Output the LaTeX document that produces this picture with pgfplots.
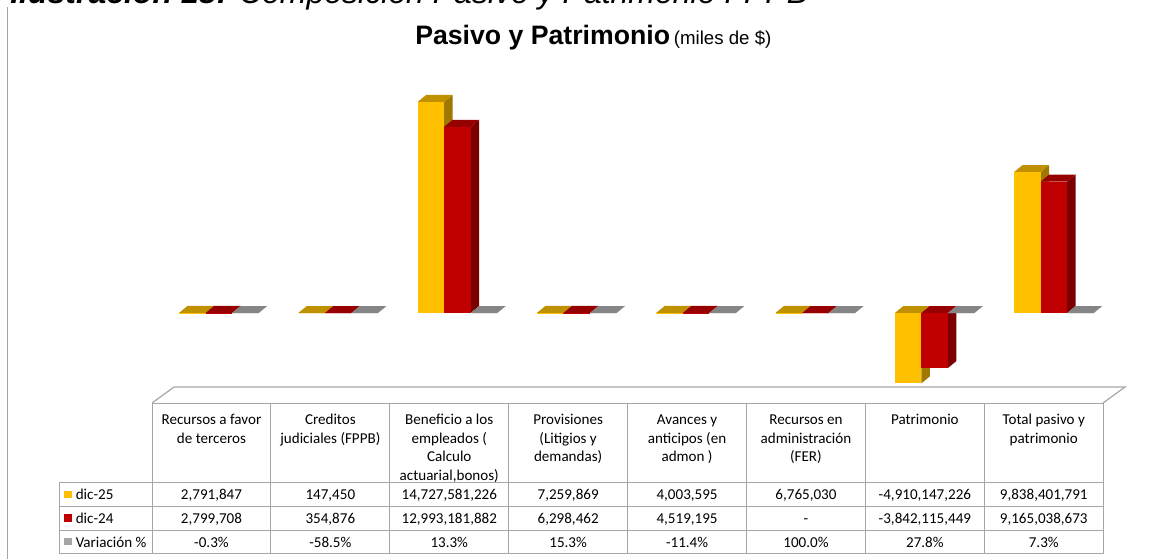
\documentclass[border=0pt]{standalone}
\usepackage{pgfplots}
\pgfplotsset{compat=1.18}
\usepackage{pgfplotstable}
\usepackage{fontspec}
\setmainfont{Carlito}
\newfontfamily\arial{Liberation Sans}

\definecolor{yfront}{HTML}{FFC000}
\definecolor{ytop}{HTML}{BF9000}
\definecolor{yside}{HTML}{A07800}
\definecolor{rfront}{HTML}{C00000}
\definecolor{rtop}{HTML}{960000}
\definecolor{rside}{HTML}{7A0000}
\definecolor{gfront}{HTML}{A5A5A5}
\definecolor{gtop}{HTML}{858585}
\definecolor{gside}{HTML}{6E6E6E}
\definecolor{grid}{HTML}{A6A6A6}

% values in miles de $ ; c = variacion (fraction)
\pgfplotstableread{
x  a            b            c
0  2791847      2799708      -0.003
1  147450       354876       -0.585
2  14727581226  12993181882  0.133
3  7259869      6298462      0.153
4  4003595      4519195      -0.114
5  6765030      0            1.000
6  -4910147226  -3842115449  0.278
7  9838401791   9165038673   0.073
}\datatable

% y unit of the axis: 236.45pt for 22e9
\def\yunit{1.074773e-8}

% 3d bar drawn as a plot mark at the data point: name, left offset (pt), front, top, side
\newcommand\declarebar[5]{%
  \pgfdeclareplotmark{#1}{%
    \pgfkeys{/pgf/fpu=true,/pgf/fpu/output format=fixed}%
    \pgfmathparse{\rawval*\yunit}\let\hv=\pgfmathresult
    \pgfkeys{/pgf/fpu=false}%
    \pgfmathsetmacro\hb{-\hv}%
    \pgfmathsetmacro\yt{max(0,\hb)}%
    \pgfmathsetmacro\yb{min(0,\hb)}%
    \pgfmathsetmacro\ytd{\yt+5.25}%
    \pgfmathsetmacro\ybd{\yb+5.25}%
    \def\xl{#2}%
    \pgfmathsetmacro\xr{#2+19.875}%
    \pgfmathsetmacro\xld{#2+6.375}%
    \pgfmathsetmacro\xrd{#2+26.25}%
    \pgfsetfillcolor{#5}%
    \pgfpathmoveto{\pgfpoint{\xr pt}{\yb pt}}%
    \pgfpathlineto{\pgfpoint{\xr pt}{\yt pt}}%
    \pgfpathlineto{\pgfpoint{\xrd pt}{\ytd pt}}%
    \pgfpathlineto{\pgfpoint{\xrd pt}{\ybd pt}}%
    \pgfpathclose
    \pgfusepath{fill}%
    \pgfsetfillcolor{#4}%
    \pgfpathmoveto{\pgfpoint{\xl pt}{\yt pt}}%
    \pgfpathlineto{\pgfpoint{\xr pt}{\yt pt}}%
    \pgfpathlineto{\pgfpoint{\xrd pt}{\ytd pt}}%
    \pgfpathlineto{\pgfpoint{\xld pt}{\ytd pt}}%
    \pgfpathclose
    \pgfusepath{fill}%
    \pgfsetfillcolor{#3}%
    \pgfpathmoveto{\pgfpoint{\xl pt}{\yb pt}}%
    \pgfpathlineto{\pgfpoint{\xr pt}{\yb pt}}%
    \pgfpathlineto{\pgfpoint{\xr pt}{\yt pt}}%
    \pgfpathlineto{\pgfpoint{\xl pt}{\yt pt}}%
    \pgfpathclose
    \pgfusepath{fill}%
  }}
\declarebar{baryel}{-29.8125}{yfront}{ytop}{yside}
\declarebar{barred}{-9.9375}{rfront}{rtop}{rside}
\declarebar{bargray}{9.9375}{gfront}{gtop}{gside}

\begin{document}
\begin{tikzpicture}
\path[use as bounding box] (0,0) rectangle (874.5pt,-418.5pt);
\clip (0,0) rectangle (874.5pt,-418.5pt);

\begin{scope}[x=0.75pt, y=-0.75pt, every node/.style={inner sep=0pt}]
  % caption (cut at the top)
  \node[anchor=base west] at (10,3.5) {\arial\fontsize{24}{28}\selectfont
    {\bfseries\itshape Ilustración 18:} {\itshape Composición Pasivo y Patrimonio FPPB}};
  % chart border
  \draw[grid, line width=0.75pt] (7.5,7) -- (7.5,560);
  % title
  \node[anchor=base west] at (415,44) {\arial{\fontsize{20}{24}\selectfont\bfseries Pasivo y Patrimonio}
    {\fontsize{14}{16}\selectfont (miles de \$)}};

  % floor and data table
  \draw[grid, line width=0.9pt] (152,403) -- (174,387) -- (1125,387) -- (1103,403);
  \draw[grid, line width=0.75pt] (152,403) -- (1103,403);
  \foreach \yy in {482.5,506,530,553.5}
    \draw[grid, line width=0.75pt] (59,\yy) -- (1103,\yy);
  \draw[grid, line width=0.75pt] (59,482.5) -- (59,553.5);
  \foreach \k in {0,...,8}
    \draw[grid, line width=0.75pt] ({152+118.9*\k},403) -- ({152+118.9*\k},553.5);

  \begin{scope}[every node/.append style={font=\fontsize{11.3}{13.8}\selectfont, align=center}]
    \foreach \k/\txt in {0/{Recursos a favor\\de terceros},
                         1/{Creditos\\judiciales (FPPB)},
                         2/{Beneficio a los\\empleados (\\Calculo\\actuarial,bonos)},
                         3/{Provisiones\\(Litigios y\\demandas)},
                         4/{Avances y\\anticipos (en\\admon )},
                         5/{Recursos en\\administración\\(FER)},
                         6/{Patrimonio},
                         7/{Total pasivo y\\patrimonio}}
      \node[anchor=north] at ({152+118.9*(\k+0.5)},411.8) {\strut\txt};
    \foreach \k/\u/\v/\w in {0/{2,791,847}/{2,799,708}/{-0.3\%},
                             1/{147,450}/{354,876}/{-58.5\%},
                             2/{14,727,581,226}/{12,993,181,882}/{13.3\%},
                             3/{7,259,869}/{6,298,462}/{15.3\%},
                             4/{4,003,595}/{4,519,195}/{-11.4\%},
                             5/{6,765,030}/{-}/{100.0\%},
                             6/{-4,910,147,226}/{-3,842,115,449}/{27.8\%},
                             7/{9,838,401,791}/{9,165,038,673}/{7.3\%}}{
      \node[anchor=base] at ({152+118.9*(\k+0.5)},499.5) {\u};
      \node[anchor=base] at ({152+118.9*(\k+0.5)},523) {\v};
      \node[anchor=base] at ({152+118.9*(\k+0.5)},547) {\w};
    }
    \fill[yfront] (64,490.5) rectangle (72,498);
    \fill[rfront] (64,514) rectangle (72,521.5);
    \fill[gfront] (64,537.5) rectangle (72,545);
    \node[anchor=base west] at (75.5,499.5) {dic-25};
    \node[anchor=base west] at (75.5,523) {dic-24};
    \node[anchor=base west] at (75.5,547) {Variación \%};
  \end{scope}
\end{scope}

\begin{axis}[
  at={(119.325pt,-299.25pt)}, anchor=south west,
  scale only axis, width=715.8pt, height=236.45pt,
  xmin=-0.5, xmax=7.5, ymin=-6e9, ymax=16e9,
  hide axis, clip=false,
]
\addplot[only marks, mark=baryel, visualization depends on={rawy \as \rawval}]
  table[x=x, y=a] {\datatable};
\addplot[only marks, mark=barred, visualization depends on={rawy \as \rawval}]
  table[x=x, y=b] {\datatable};
\addplot[only marks, mark=bargray, visualization depends on={rawy \as \rawval}]
  table[x=x, y=c] {\datatable};
\end{axis}
\end{tikzpicture}
\end{document}
